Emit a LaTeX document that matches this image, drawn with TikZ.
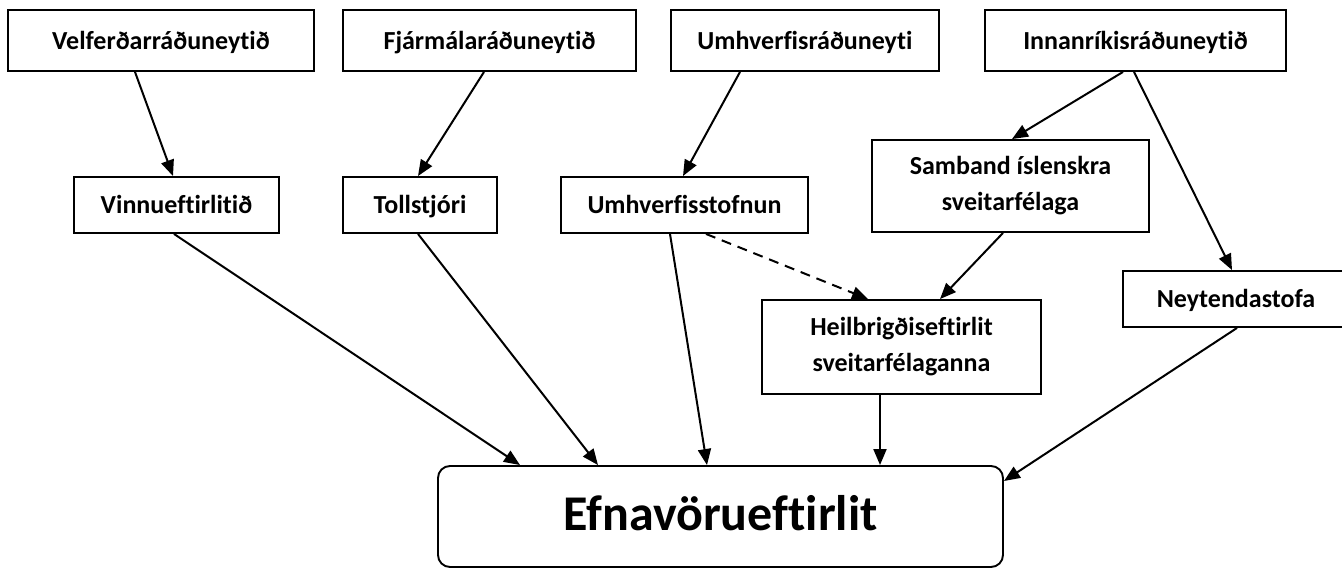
\documentclass[tikz,border=0pt]{standalone}
\usepackage{fontspec}
\setmainfont{Carlito}[Ligatures=NoCommon]
\usetikzlibrary{arrows.meta,calc}
\begin{document}
\begin{tikzpicture}[x=1pt,y=-1pt,
  box/.style={draw,line width=1.9pt,inner sep=0pt,align=center,
    font=\fontsize{26}{36}\selectfont\bfseries},
  one/.style={box,text height=20pt,text depth=2pt},
  arr/.style={line width=2pt,-{Triangle[length=16pt,width=13pt]}},
  dsh/.style={arr,dash pattern=on 10pt off 7pt}]
\useasboundingbox (0,0) rectangle (1342,569);
\clip (0,0) rectangle (1342,569);
% top row
\node[one,minimum width=306pt,minimum height=61pt] (vel) at (161,40.5) {Velferðarráðuneytið};
\node[one,minimum width=293pt,minimum height=61pt] (fin) at (489.5,40.5) {Fjármálaráðuneytið};
\node[one,minimum width=268pt,minimum height=61pt] (umr) at (805,40.5) {Umhverfisráðuneyti};
\node[one,minimum width=301pt,minimum height=61pt] (inn) at (1135.5,40.5) {Innanríkisráðuneytið};
% middle
\node[one,minimum width=205pt,minimum height=56pt] (vinnu) at (176.5,205) {Vinnueftirlitið};
\node[one,minimum width=154pt,minimum height=56pt] (toll) at (420,205) {Tollstjóri};
\node[one,minimum width=247pt,minimum height=56pt] (ust) at (684.5,205) {Umhverfisstofnun};
\node[box,minimum width=277pt,minimum height=92pt] (samb) at (1010.5,186) {Samband íslenskra\\sveitarfélaga};
\node[box,minimum width=279pt,minimum height=94pt] (heil) at (901.5,347) {Heilbrigðiseftirlit\\sveitarfélaganna};
\node[one,minimum width=226pt,minimum height=56pt] (neyt) at (1236,299) {Neytendastofa};
% bottom
\node[box,rounded corners=12pt,minimum width=565pt,minimum height=101pt,
  text height=32pt,text depth=5pt,
  font=\fontsize{50}{60}\selectfont\bfseries] (efna) at (720.5,516.5) {Efnavörueftirlit};
% connectors
\draw[arr] ([xshift=-26pt]vel.south) -- ([xshift=-3.5pt]vinnu.north);
\draw[arr] ([xshift=-5.5pt]fin.south) -- ([xshift=-2pt]toll.north);
\draw[arr] ([xshift=-65pt]umr.south) -- ([xshift=-1.5pt]ust.north);
\draw[arr] ([xshift=-12.5pt]inn.south) -- ([xshift=1.5pt]samb.north);
\draw[arr] ([xshift=-1.5pt]inn.south) -- ([xshift=-4pt]neyt.north);
\draw[arr] ([xshift=-7.5pt]samb.south) -- ([xshift=38.5pt]heil.north);
\draw[dsh] ([xshift=21.5pt]ust.south) -- ([xshift=-33.5pt]heil.north);
\draw[arr] ([xshift=-2.5pt]vinnu.south) -- ([xshift=-200.5pt]efna.north);
\draw[arr] ([xshift=-2pt]toll.south) -- ([xshift=-122.5pt]efna.north);
\draw[arr] ([xshift=-14.5pt]ust.south) -- ([xshift=-13.5pt]efna.north);
\draw[arr] ([xshift=-21.5pt]heil.south) -- ([xshift=159.5pt]efna.north);
\draw[arr] ([xshift=1pt]neyt.south) -- ([yshift=35.5pt]efna.east);
\end{tikzpicture}
\end{document}
